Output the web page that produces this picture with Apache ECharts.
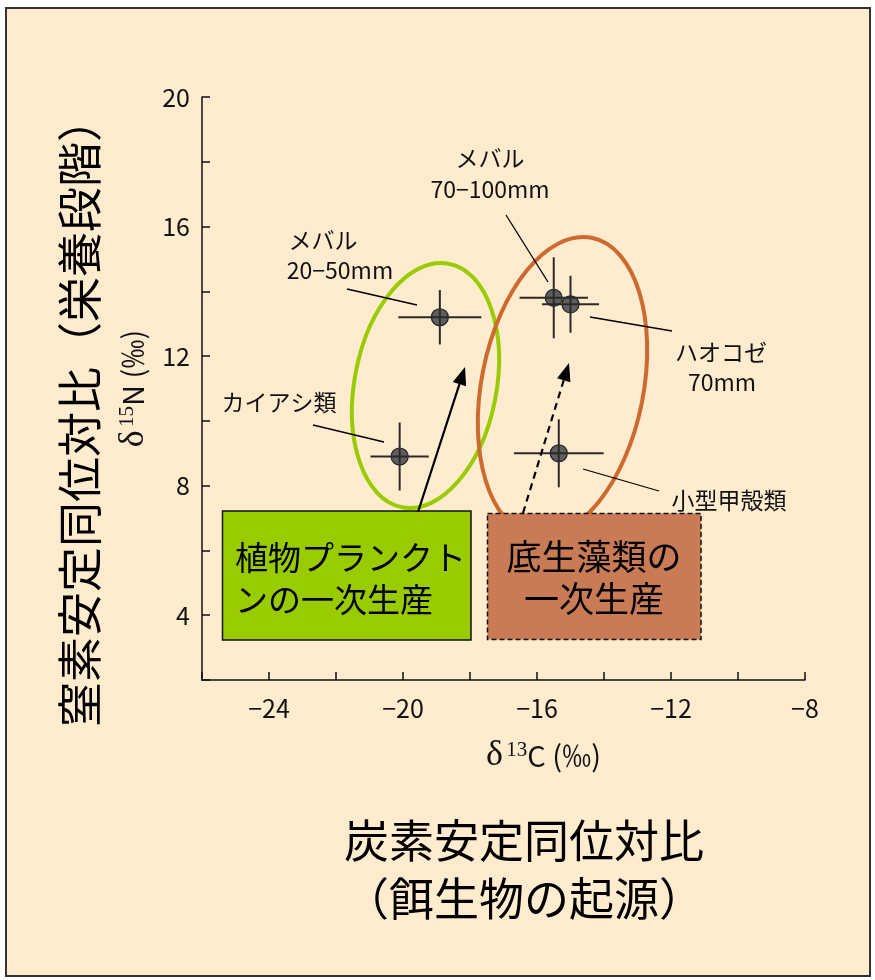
<!DOCTYPE html>
<html>
<head>
<meta charset="utf-8">
<script src="https://cdn.jsdelivr.net/npm/echarts@6/dist/echarts.min.js"></script>
<style>
  html, body { margin: 0; padding: 0; background: #ffffff; }
  #chart { width: 875px; height: 980px; }
</style>
</head>
<body>
<div id="chart"></div>
<script>
// Stable isotope ratios of prey organisms and juvenile fish (mean ± SD)
const taxa      = ['カイアシ類', 'メバル 20-50mm', 'メバル 70-100mm', 'ハオコゼ 70mm', '小型甲殻類'];
const d13C      = [-20.1, -18.9, -15.5, -15.0, -15.35];
const d15N      = [8.9, 13.2, 13.8, 13.6, 9.0];
const d13CSd    = [0.87, 1.24, 1.02, 0.85, 1.34];
const d15NSd    = [1.05, 0.84, 1.25, 0.88, 1.05];

// Axis ranges and tick settings
const xRange = [-26, -8];
const yRange = [2, 20];
const tickStep = 2;
const labelStep = 4;

const JP = '"Noto Sans CJK JP", "Noto Sans", sans-serif';
const SERIF = '"Liberation Serif", "DejaVu Serif", serif';

const chart = echarts.init(document.getElementById('chart'), null, { renderer: 'canvas' });

const points = taxa.map((t, i) => [d13C[i], d15N[i], d13CSd[i], d15NSd[i], t]);

const nameRich = {
  d: { fontFamily: SERIF, fontSize: 36, color: '#111' },
  s: { fontFamily: SERIF, fontSize: 21, color: '#111', padding: [0, 0, 12, 0] },
  n: { fontFamily: JP, fontSize: 29, color: '#111' }
};

const option = {
  backgroundColor: '#ffffff',
  animation: false,
  grid: { left: 202, right: 70, top: 97, bottom: 300, containLabel: false },
  xAxis: {
    type: 'value',
    min: xRange[0], max: xRange[1], interval: tickStep,
    splitLine: { show: false },
    axisLine: { onZero: false, lineStyle: { color: '#111', width: 1.5 } },
    axisTick: { inside: true, length: 8, lineStyle: { color: '#111', width: 1.5 } },
    axisLabel: {
      margin: 16, color: '#111', fontFamily: JP, fontSize: 25,
      formatter: v => (v % labelStep === 0 ? (v < 0 ? '\u2212' + Math.abs(v) : String(v)) : '')
    },
    name: '{d|δ} {s|13}{n|C (‰)}',
    nameLocation: 'middle',
    nameGap: 58,
    nameTextStyle: { padding: [0, 0, 0, 80], rich: nameRich }
  },
  yAxis: {
    type: 'value',
    min: yRange[0], max: yRange[1], interval: tickStep,
    splitLine: { show: false },
    axisLine: { onZero: false, lineStyle: { color: '#111', width: 1.5 } },
    axisTick: { inside: true, length: 8, lineStyle: { color: '#111', width: 1.5 } },
    axisLabel: {
      margin: 12, color: '#111', fontFamily: JP, fontSize: 25,
      formatter: v => (v % labelStep === 0 ? String(v) : '')
    },
    name: '{d|δ} {s|15}{n|N (‰)}',
    nameLocation: 'middle',
    nameRotate: 90,
    nameGap: 42,
    nameTextStyle: { rich: nameRich }
  },
  series: [
    {
      type: 'scatter',
      data: points.map(p => [p[0], p[1]]),
      symbol: 'circle',
      symbolSize: 17,
      itemStyle: { color: '#5e5e5e', borderColor: '#222', borderWidth: 1.2, opacity: 1 },
      z: 3
    },
    {
      // error bars (± SD) on both axes, drawn over the markers
      type: 'custom',
      data: points,
      z: 4,
      renderItem: function (params, api) {
        const x = api.value(0), y = api.value(1), ex = api.value(2), ey = api.value(3);
        const l = api.coord([x - ex, y]), r = api.coord([x + ex, y]);
        const t = api.coord([x, y + ey]), b = api.coord([x, y - ey]);
        const st = { stroke: '#2a2a2a', lineWidth: 2 };
        return {
          type: 'group',
          children: [
            { type: 'line', shape: { x1: l[0], y1: l[1], x2: r[0], y2: r[1] }, style: st },
            { type: 'line', shape: { x1: t[0], y1: t[1], x2: b[0], y2: b[1] }, style: st }
          ]
        };
      }
    }
  ]
};

chart.setOption(option);

// ---- annotations ----
function arrow(x1, y1, x2, y2, dashed, z) {
  const dx = x2 - x1, dy = y2 - y1, len = Math.hypot(dx, dy);
  const ux = dx / len, uy = dy / len, nx = -uy, ny = ux;
  const head = 18, half = 7;
  const bx = x2 - ux * head, by = y2 - uy * head;
  return [
    { type: 'line', z: z, shape: { x1: x1, y1: y1, x2: bx, y2: by },
      style: { stroke: '#000', lineWidth: 2.2, lineDash: dashed ? [7, 5] : null } },
    { type: 'polygon', z: z, shape: { points: [[x2, y2], [bx + nx * half, by + ny * half], [bx - nx * half, by - ny * half]] },
      style: { fill: '#000' } }
  ];
}

function leader(x1, y1, x2, y2) {
  return { type: 'line', z: 2, shape: { x1: x1, y1: y1, x2: x2, y2: y2 }, style: { stroke: '#000', lineWidth: 1.3 } };
}

function label(text, x, y, size) {
  return { type: 'text', z: 6, x: x, y: y,
    style: { text: text, fill: '#111', font: size + 'px ' + JP, textAlign: 'center', textVerticalAlign: 'middle' } };
}

function ellipse(cx, cy, rx, ry, deg, color) {
  return { type: 'ellipse', z: 1, x: cx, y: cy, rotation: -deg * Math.PI / 180,
    shape: { cx: 0, cy: 0, rx: rx, ry: ry },
    style: { fill: 'none', stroke: color, lineWidth: 4 } };
}

const elements = [
  // panel background and frame
  { type: 'rect', z: -100, shape: { x: 6, y: 8, width: 864, height: 968 },
    style: { fill: '#FFEBCD', stroke: '#333', lineWidth: 2 } },

  // food-source ellipses
  ellipse(425.5, 385.5, 71, 124, 10.8, '#99CC00'),
  ellipse(562.5, 386.5, 81, 151.5, 11.1, '#CC6A30'),

  // primary producer boxes
  { type: 'rect', z: 5, shape: { x: 222.5, y: 511, width: 248.5, height: 129 },
    style: { fill: '#99CC00', stroke: '#111', lineWidth: 1.5 } },
  { type: 'rect', z: 5, shape: { x: 487.5, y: 513.5, width: 213.5, height: 126 },
    style: { fill: '#C87B55', stroke: '#111', lineWidth: 1.5, lineDash: [5, 3] } },
  { type: 'text', z: 6, x: 235, y: 578,
    style: { text: '植物プランクト\nンの一次生産', fill: '#000', font: '33px ' + JP,
             textAlign: 'left', textVerticalAlign: 'middle', lineHeight: 42 } },
  { type: 'text', z: 6, x: 594, y: 578,
    style: { text: '底生藻類の\n一次生産', fill: '#000', font: '35px ' + JP,
             textAlign: 'center', textVerticalAlign: 'middle', lineHeight: 42 } },

  // species labels and leader lines
  label('カイアシ類', 279, 402, 23),
  leader(313, 425, 384, 442),
  label('メバル', 323, 240, 23),
  label('20\u221250mm', 340, 270, 23),
  leader(347, 289, 417, 305),
  label('メバル', 490, 158, 23),
  label('70\u2212100mm', 490, 189, 23),
  leader(506, 215, 548, 282),
  label('ハオコゼ', 721, 352, 23),
  label('70mm', 722, 382, 23),
  leader(590, 317, 672, 331),
  label('小型甲殻類', 729, 500, 23),
  leader(583, 469, 659, 491),

  // large axis captions
  { type: 'text', z: 6, x: 80, y: 412, rotation: Math.PI / 2,
    style: { text: '窒素安定同位対比（栄養段階）', fill: '#000', font: '45px ' + JP,
             textAlign: 'center', textVerticalAlign: 'middle' } },
  { type: 'text', z: 6, x: 524, y: 870,
    style: { text: '炭素安定同位対比\n（餌生物の起源）', fill: '#000', font: '45px ' + JP,
             textAlign: 'center', textVerticalAlign: 'middle', lineHeight: 58 } }
]
  .concat(arrow(418, 512, 465, 367, false, 7))
  .concat(arrow(523, 513, 569, 363, true, 7));

chart.setOption({ graphic: { elements: elements } });
</script>
</body>
</html>
